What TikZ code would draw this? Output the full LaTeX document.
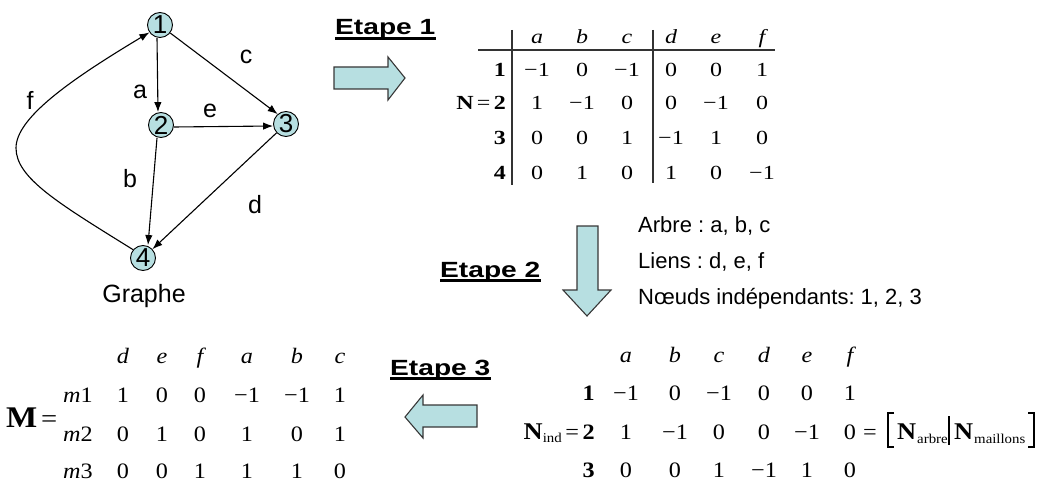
\documentclass[tikz,border=0pt]{standalone}
\usepackage{fontspec}
\setmainfont{Liberation Serif}
\newfontfamily\arial{Liberation Sans}
\newfontfamily\arialwide[FakeStretch=1.28]{Liberation Sans}
\newfontfamily\serifA[FakeStretch=1.2]{Liberation Serif}
\newfontfamily\serifB[FakeStretch=1.1]{Liberation Serif}
\usetikzlibrary{arrows.meta}
\definecolor{cyanfill}{RGB}{183,223,225}
\definecolor{rim}{RGB}{55,55,55}
\newcommand\fsz[1]{\fontsize{#1}{#1}\selectfont}

\begin{document}
\frenchspacing
\begin{tikzpicture}[x=1pt,y=-1pt,
  vtx/.style={circle,draw,line width=0.9pt,fill=cyanfill,inner sep=0pt,minimum size=25pt,font=\arial\fsz{26}},
  lbl/.style={font=\arial\fsz{25},inner sep=0pt},
  edge/.style={line width=1.1pt,-{Latex[length=10pt,width=7.5pt]}},
  etape/.style={font=\arialwide\bfseries\fsz{22},inner sep=0pt,anchor=base west},
  uline/.style={line width=2.6pt},
  blockarrow/.style={fill=cyanfill,draw=rim,line width=1.1pt,line join=miter},
  txt/.style={font=\arial\fsz{22},inner sep=0pt,anchor=base west},
  entA/.style={inner sep=0pt,anchor=base,font=\serifA\fsz{20}},
  entB/.style={inner sep=0pt,anchor=base,font=\serifB\fsz{22}},
  hdA/.style={entA,font=\serifA\itshape\fsz{20}},
  hdB/.style={entB,font=\serifB\itshape\fsz{22}},
  rule/.style={line width=1.3pt,draw=black!80}
]
\useasboundingbox (0,0) rectangle (1041,481);

% ---------- graph ----------
\node[vtx] (n1) at (160,25) {1};
\node[vtx] (n2) at (161,125) {2};
\node[vtx] (n3) at (286,124) {3};
\node[vtx] (n4) at (143,258) {4};

\draw[edge] ([xshift=-3pt]n1.south) -- ([xshift=-3pt]n2.north);
\draw[edge] (n1.-38) -- (n3.130);
\draw[edge] ([yshift=-2pt]n2.east) -- ([yshift=-2pt]n3.west);
\draw[edge] ([xshift=-4pt]n2.south) -- ([xshift=5pt]n4.north);
\draw[edge] (n3) -- (n4);
\draw[edge] (n4.140) .. controls (58,203) and (16,178) .. (16,148)
                     .. controls (16,118) and (70,80) .. (n1.215);

\node[lbl] (la) at (140,92) {a};
\node[lbl] (lb) at (130,179) {b};
\node[lbl] (lc) at (246,57) {c};
\node[lbl] (ld) at (255,205) {d};
\node[lbl] (le) at (210,111) {e};
\node[lbl] (lf) at (30,100) {f};
\node[lbl,anchor=base] (graphe) at (144,302) {Graphe};

% ---------- step titles ----------
\node[etape] (e1) at (335,35) {Etape 1};
\draw[uline] ([yshift=-3.5pt]e1.base west) -- ([yshift=-3.5pt]e1.base east);
\node[etape] (e2) at (440,277) {Etape 2};
\draw[uline] ([yshift=-3.5pt]e2.base west) -- ([yshift=-3.5pt]e2.base east);
\node[etape] (e3) at (390,375) {Etape 3};
\draw[uline] ([yshift=-3.5pt]e3.base west) -- ([yshift=-3.5pt]e3.base east);

% ---------- block arrows ----------
\draw[blockarrow] (334,67) -- (388,67) -- (388,57) -- (405,78) -- (388,100)
                  -- (388,89) -- (334,89) -- cycle;
\draw[blockarrow] (577,226) -- (598,226) -- (598,290) -- (611,290) -- (587,316)
                  -- (563,290) -- (577,290) -- cycle;
\draw[blockarrow] (477,405) -- (423,405) -- (423,395) -- (405,417) -- (423,438)
                  -- (423,427) -- (477,427) -- cycle;

% ---------- incidence matrix N ----------
\draw[rule] (512,30) -- (512,185);
\draw[rule] (653,30) -- (653,183);
\draw[rule] (478,50) -- (775,50);
\def\colsA{{537,582,627,671,716,762}}
\foreach \h [count=\c from 0] in {a,b,c,d,e,f}{
  \pgfmathsetmacro\x{\colsA[\c]}
  \node[hdA] (hA\c) at (\x,44) {\h};
}
\foreach \r/\y/\vals in {1/77/{−1,0,−1,0,0,1},2/110/{1,−1,0,0,−1,0},
                         3/145/{0,0,1,−1,1,0},4/180/{0,1,0,1,0,−1}}{
  \foreach \v [count=\c from 0] in \vals {
    \pgfmathsetmacro\x{\colsA[\c]}
    \node[entA] (nA\r\c) at (\x,\y) {\v};
  }
}
\node[entA,anchor=base east] (rA1) at (506,77) {\textbf{1}};
\node[entA,anchor=base east] (rA2) at (506,110) {\textbf{N}\,=\,\textbf{2}};
\node[entA,anchor=base east] (rA3) at (506,145) {\textbf{3}};
\node[entA,anchor=base east] (rA4) at (506,180) {\textbf{4}};

% ---------- tree / links ----------
\node[txt] (arbre) at (638,233) {Arbre : a, b, c};
\node[txt] (liens) at (638,268) {Liens : d, e, f};
\node[txt] (noeuds) at (638,304) {Nœuds indépendants: 1, 2, 3};

% ---------- reduced matrix N_ind ----------
\def\colsN{{626,675,719,764,807,850}}
\foreach \h [count=\c from 0] in {a,b,c,d,e,f}{
  \pgfmathsetmacro\x{\colsN[\c]}
  \node[hdB] (hN\c) at (\x,362) {\h};
}
\foreach \r/\y/\vals in {1/400/{−1,0,−1,0,0,1},2/439/{1,−1,0,0,−1,0},
                         3/477/{0,0,1,−1,1,0}}{
  \foreach \v [count=\c from 0] in \vals {
    \pgfmathsetmacro\x{\colsN[\c]}
    \node[entB] (nN\r\c) at (\x,\y) {\v};
  }
}
\node[entB,anchor=base east] (rN1) at (595,400) {\textbf{1}};
\node[entB,anchor=base east] (rN2) at (595,439)
  {{\bfseries\fsz{24}N}\raisebox{-3.5pt}{\fsz{13.5}ind}\,=\,\textbf{2}};
\node[entB,anchor=base east] (rN3) at (595,477) {\textbf{3}};

% [ N_arbre | N_maillons ]
\node[entB,anchor=base west] (eqN) at (863,439) {=};
\draw[line width=1.6pt] (894,413) -- (888,413) -- (888,447) -- (894,447);
\node[entB,anchor=base west,font=\serifB\bfseries\fsz{24}] (Na) at (897,439) {N};
\node[entB,anchor=base west,font=\serifB\fsz{13.5}] (sa) at (917,443) {arbre};
\draw[line width=1.1pt] (949,416) -- (949,445);
\node[entB,anchor=base west,font=\serifB\bfseries\fsz{24}] (Nm) at (954,439) {N};
\node[entB,anchor=base west,font=\serifB\fsz{13.5}] (sm) at (974,443) {maillons};
\draw[line width=1.6pt] (1028,413) -- (1034,413) -- (1034,447) -- (1028,447);

% ---------- mesh matrix M ----------
\node[entB,anchor=base west] (Mlab) at (6,427) {{\bfseries\fsz{30}M}\,{\fsz{26}=}};
\def\colsM{{123,162,200,247,297,340}}
\foreach \h [count=\c from 0] in {d,e,f,a,b,c}{
  \pgfmathsetmacro\x{\colsM[\c]}
  \node[hdB] (hM\c) at (\x,363) {\h};
}
\foreach \r/\y/\vals in {1/402/{1,0,0,−1,−1,1},2/441/{0,1,0,1,0,1},
                         3/478/{0,0,1,1,1,0}}{
  \node[entB,anchor=base east] (rM\r) at (93,\y) {\textit{m}\r};
  \foreach \v [count=\c from 0] in \vals {
    \pgfmathsetmacro\x{\colsM[\c]}
    \node[entB] (nM\r\c) at (\x,\y) {\v};
  }
}
\end{tikzpicture}
\end{document}
